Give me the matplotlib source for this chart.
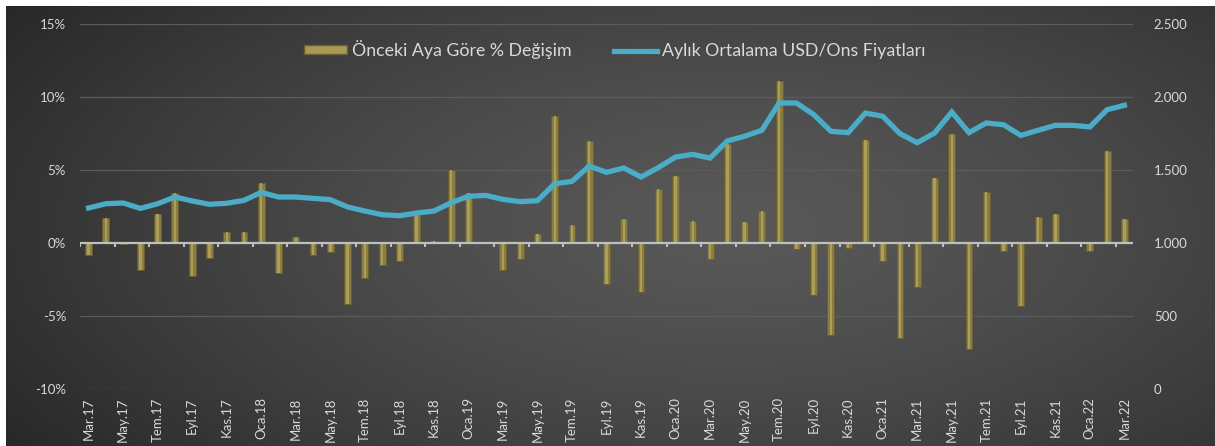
import numpy as np
import matplotlib
matplotlib.use("Agg")
import matplotlib.pyplot as plt
from matplotlib.ticker import FuncFormatter
from matplotlib.lines import Line2D
from matplotlib.patches import Patch

months = ["Mar", "Nis", "May", "Haz", "Tem", "Ağu", "Eyl", "Eki", "Kas", "Ara", "Oca", "Şub"]
labels = []
for k in range(61):
    y = 17 + (2 + k) // 12
    labels.append(f"{months[k % 12]}.{y}")

pct_change = [-0.85, 1.7, -0.05, -1.87, 1.99, 3.45, -2.24, -1.0, 0.75, 0.75,
              4.13, -2.05, 0.41, -0.85, -0.6, -4.2, -2.4, -1.53, -1.26, 1.9,
              0.15, 4.98, 3.42, 0.02, -1.87, -1.07, 0.64, 8.7, 1.26, 7.0,
              -2.83, 1.67, -3.36, 3.68, 4.57, 1.5, -1.07, 6.8, 1.44, 2.19,
              11.07, -0.39, -3.58, -6.28, -0.32, 7.08, -1.26, -6.48, -3.0, 4.47,
              7.44, -7.28, 3.52, -0.55, -4.29, 1.78, 1.96, 0.02, -0.55, 6.3,
              1.62]

price = [1240, 1269, 1274, 1237, 1269, 1315, 1288, 1265, 1272, 1292,
         1347, 1315, 1315, 1306, 1297, 1247, 1219, 1194, 1187, 1205,
         1219, 1276, 1320, 1326, 1299, 1283, 1290, 1406, 1422, 1527,
         1484, 1514, 1452, 1516, 1589, 1607, 1582, 1699, 1731, 1772,
         1959, 1959, 1880, 1765, 1756, 1890, 1868, 1749, 1687, 1753,
         1897, 1756, 1822, 1810, 1737, 1772, 1806, 1806, 1795, 1913,
         1943]

plt.rcParams['font.family'] = ['Lato', 'DejaVu Sans']
txt = '#d9d9d9'

fig = plt.figure(figsize=(12.15, 4.46), dpi=100, facecolor='white')

# background gradient
bg = fig.add_axes([6 / 1215, 0, 1 - 6 / 1215, 1 - 6 / 446], zorder=-5)
gx, gy = np.meshgrid(np.linspace(0, 1, 400), np.linspace(0, 1, 200))
d = np.sqrt(((gx - 0.6) / 0.75) ** 2 + ((gy - 0.5) / 0.95) ** 2)
shade = 0.345 - 0.2 * np.clip(d, 0, 1) ** 1.4
bg.imshow(np.dstack([shade] * 3), aspect='auto', extent=[0, 1, 0, 1])
bg.axis('off')

ax = fig.add_axes([80 / 1215, 57 / 446, 1053 / 1215, 365 / 446])
ax.set_facecolor('none')
x = np.arange(len(pct_change))

ax.bar(x, pct_change, width=0.4, color='#8a7d42', edgecolor='#6a5f30', linewidth=0.6, zorder=3)
ax.bar(x, pct_change, width=0.14, color='#ab9e5a', linewidth=0, zorder=4)

ax.set_ylim(-10, 15)
ax.set_xlim(-0.5, len(x) - 0.5)
ax.set_yticks([-10, -5, 0, 5, 10, 15])
ax.yaxis.set_major_formatter(FuncFormatter(lambda v, p: f"{v:.0f}%"))
for yv in [-10, -5, 5, 10, 15]:
    ax.axhline(yv, color='#5c5c5c', linewidth=0.9, zorder=1)
ax.axhline(0, color='#bfbfbf', linewidth=1.6, zorder=5)
ax.vlines(np.arange(-0.5, len(x), 2), -0.3, 0, color='#bfbfbf', linewidth=1.5, zorder=5)

ax.set_xticks(x[::2])
ax.set_xticklabels(labels[::2], rotation=90, va='top', ha='center')
ax.tick_params(axis='x', length=0, pad=6, labelsize=9.5, labelcolor=txt)
ax.tick_params(axis='y', length=0, pad=10, labelsize=9.5, labelcolor=txt)
for s in ax.spines.values():
    s.set_visible(False)

ax2 = ax.twinx()
ax2.plot(x, price, color='#4aacc6', linewidth=3.8, solid_joinstyle='miter', zorder=6)
ax2.set_ylim(0, 2500)
ax2.set_yticks(range(0, 2501, 500))
ax2.yaxis.set_major_formatter(FuncFormatter(lambda v, p: f"{v:,.0f}".replace(",", ".")))
ax2.tick_params(axis='y', length=0, pad=15, labelsize=9.5, labelcolor=txt)
for s in ax2.spines.values():
    s.set_visible(False)

handles = [Patch(facecolor='#a89a55', edgecolor='#6a5f30'),
           Line2D([0], [0], color='#4aacc6', linewidth=3.8)]
ax.legend(handles, ['Önceki Aya Göre % Değişim', 'Aylık Ortalama USD/Ons Fiyatları'],
          loc='upper center', bbox_to_anchor=(0.508, 1.0), ncol=2, frameon=False,
          fontsize=12.8, labelcolor=txt, handlelength=2.4, handleheight=0.35,
          columnspacing=2.4, handletextpad=0.3)

fig.savefig('out.png', dpi=100, facecolor=fig.get_facecolor())
